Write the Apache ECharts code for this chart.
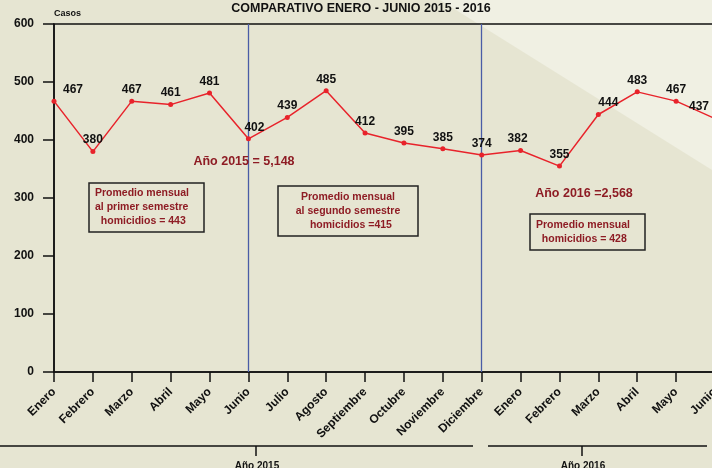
<!DOCTYPE html>
<html>
<head>
<meta charset="utf-8">
<script src="https://cdn.jsdelivr.net/npm/echarts@6/dist/echarts.min.js"></script>
<style>
  html, body { margin: 0; padding: 0; background: #E6E5D2; }
  #chart { width: 712px; height: 468px; }
</style>
</head>
<body>
<div id="chart"></div>
<script>
// months, 2015 Jan-Dec then 2016 Jan-Jun
const months = ['Enero', 'Febrero', 'Marzo', 'Abril', 'Mayo', 'Junio', 'Julio', 'Agosto',
    'Septiembre', 'Octubre', 'Noviembre', 'Diciembre',
    'Enero', 'Febrero', 'Marzo', 'Abril', 'Mayo', 'Junio'];
const casos = [467, 380, 467, 461, 481, 402, 439, 485, 412, 395, 385, 374,
    382, 355, 444, 483, 467, 437];
const yearLabels = ['Año 2015', 'Año 2016'];
const dividerIdx = [5, 11];

// small horizontal nudges for a few value labels
const labelShift = { 0: 19, 5: 6, 12: -3, 14: 10, 17: -16 };

const FONT = '"Liberation Sans", Arial, sans-serif';
const RED = '#8E1C24';

const chart = echarts.init(document.getElementById('chart'));

const seriesData = casos.map((v, i) => {
    const dx = labelShift[i];
    return dx ? { value: v, label: { offset: [dx, 0] } } : v;
});

function boxText(x, y, w, h, text, align) {
    return {
        type: 'group',
        x: x, y: y, z: 100,
        children: [
            { type: 'rect', shape: { x: 0, y: 0, width: w, height: h },
              style: { fill: 'none', stroke: '#222', lineWidth: 1.5 } },
            { type: 'text', x: align === 'center' ? w / 2 : 6, y: h / 2,
              style: { text: text, fill: RED, font: 'bold 10.5px ' + FONT,
                       align: align, verticalAlign: 'middle', lineHeight: 14 } }
        ]
    };
}

let option = {
    backgroundColor: '#E6E5D2',
    animation: false,
    title: {
        text: 'COMPARATIVO ENERO - JUNIO 2015 - 2016',
        left: 356, top: -3, textAlign: 'center',
        textStyle: { fontFamily: FONT, fontSize: 12.5, fontWeight: 'bold', color: '#111' }
    },
    grid: {
        left: 54, right: -3, top: 24, bottom: 96,
        show: true, borderColor: '#111', borderWidth: 1.5,
        outerBoundsMode: 'none',
        containLabel: false
    },
    xAxis: {
        type: 'category',
        data: months,
        boundaryGap: false,
        axisLine: { lineStyle: { color: '#111', width: 1.5 } },
        axisTick: { length: 10, lineStyle: { color: '#111', width: 1.5 }, alignWithLabel: true },
        axisLabel: {
            interval: 0, rotate: 45, margin: 18,
            fontFamily: FONT, fontSize: 12, fontWeight: 'bold', color: '#111'
        },
        splitLine: { show: false }
    },
    yAxis: {
        type: 'value',
        min: 0, max: 600, interval: 100,
        name: 'Casos',
        nameLocation: 'end',
        nameGap: 6,
        nameTextStyle: { fontFamily: FONT, fontSize: 9, fontWeight: 'bold', color: '#111', align: 'left' },
        axisLine: { show: true, lineStyle: { color: '#111', width: 1.5 } },
        axisTick: { show: true, length: 11, lineStyle: { color: '#111', width: 1.5 } },
        axisLabel: { margin: 20, fontFamily: FONT, fontSize: 12, fontWeight: 'bold', color: '#111' },
        splitLine: { show: false }
    },
    series: [{
        type: 'line',
        data: seriesData,
        symbol: 'circle',
        symbolSize: 5,
        itemStyle: { color: '#E8232B' },
        lineStyle: { color: '#E8232B', width: 1.5 },
        label: {
            show: true, position: 'top', distance: 3,
            fontFamily: FONT, fontSize: 12, fontWeight: 'bold', color: '#111'
        },
        markLine: {
            silent: true,
            symbol: 'none',
            label: { show: false },
            lineStyle: { color: '#4A5CA6', width: 1.3, type: 'solid' },
            data: dividerIdx.map(i => ({ xAxis: i }))
        },
        z: 5
    }],
    graphic: [
        { type: 'polygon', z: -100, silent: true,
          shape: { points: [[440, 0], [712, 0], [712, 170]] },
          style: { fill: '#F0F0E3' } },
        { type: 'text', x: 244, y: 162, z: 100,
          style: { text: 'Año 2015 = 5,148', fill: RED, font: 'bold 12.5px ' + FONT,
                   align: 'center', verticalAlign: 'middle' } },
        { type: 'text', x: 584, y: 194, z: 100,
          style: { text: 'Año 2016 =2,568', fill: RED, font: 'bold 12.5px ' + FONT,
                   align: 'center', verticalAlign: 'middle' } },
        boxText(89, 183, 115, 49, 'Promedio mensual\nal primer semestre\n  homicidios = 443', 'left'),
        boxText(278, 186, 140, 50, 'Promedio mensual\nal segundo semestre\n  homicidios =415', 'center'),
        boxText(530, 214, 115, 36, 'Promedio mensual\n  homicidios = 428', 'left'),
        // year grouping brackets under the month labels
        { type: 'line', z: 100, shape: { x1: 0, y1: 446, x2: 473, y2: 446 },
          style: { stroke: '#111', lineWidth: 1.5 } },
        { type: 'line', z: 100, shape: { x1: 256, y1: 446, x2: 256, y2: 456 },
          style: { stroke: '#111', lineWidth: 1.5 } },
        { type: 'text', x: 257, y: 461, z: 100,
          style: { text: yearLabels[0], fill: '#111', font: 'bold 10px ' + FONT, align: 'center' } },
        { type: 'line', z: 100, shape: { x1: 488, y1: 446, x2: 707, y2: 446 },
          style: { stroke: '#111', lineWidth: 1.5 } },
        { type: 'line', z: 100, shape: { x1: 582, y1: 446, x2: 582, y2: 456 },
          style: { stroke: '#111', lineWidth: 1.5 } },
        { type: 'text', x: 583, y: 461, z: 100,
          style: { text: yearLabels[1], fill: '#111', font: 'bold 10px ' + FONT, align: 'center' } }
    ]
};

chart.setOption(option);
</script>
</body>
</html>
